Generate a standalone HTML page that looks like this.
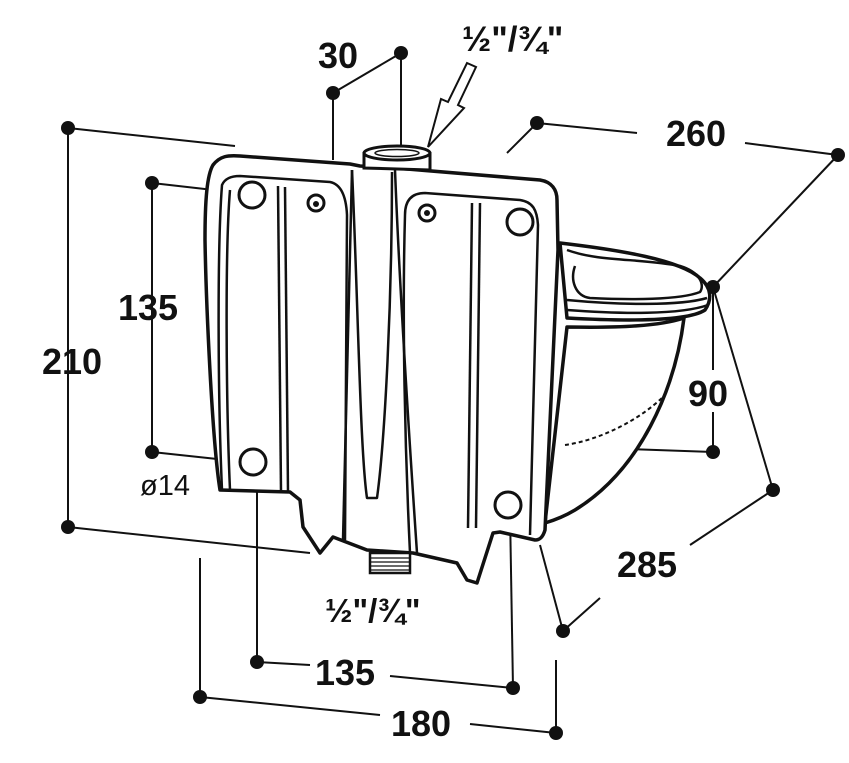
<!DOCTYPE html>
<html><head><style>
html,body{margin:0;padding:0;background:#fff;}
svg{display:block;}
text{font-family:"Liberation Sans",sans-serif;font-weight:bold;fill:#111;}
</style></head><body>
<svg width="849" height="763" viewBox="0 0 849 763" xmlns="http://www.w3.org/2000/svg">
<g stroke="#111" stroke-width="2" fill="none">
<line x1="68" y1="128" x2="68" y2="527"/>
<line x1="68" y1="128" x2="235" y2="146"/>
<line x1="68" y1="527" x2="310" y2="553"/>
<line x1="152" y1="183" x2="152" y2="452"/>
<line x1="152" y1="183" x2="240" y2="193"/>
<line x1="152" y1="452" x2="245" y2="462"/>
<line x1="333" y1="93" x2="401" y2="53"/>
<line x1="401" y1="53" x2="401" y2="152"/>
<line x1="333" y1="93" x2="333" y2="160"/>
<line x1="537" y1="123" x2="637" y2="133"/>
<line x1="745" y1="143" x2="838" y2="155"/>
<line x1="537" y1="123" x2="507" y2="153"/>
<line x1="838" y1="155" x2="713" y2="287"/>
<line x1="713" y1="287" x2="713" y2="370"/>
<line x1="713" y1="412" x2="713" y2="452"/>
<line x1="713" y1="452" x2="602" y2="448"/>
<line x1="713" y1="287" x2="773" y2="490"/>
<line x1="773" y1="490" x2="690" y2="545"/>
<line x1="600" y1="598" x2="563" y2="631"/>
<line x1="563" y1="631" x2="540" y2="545"/>
<line x1="257" y1="662" x2="257" y2="470"/>
<line x1="257" y1="662" x2="310" y2="665"/>
<line x1="390" y1="676" x2="513" y2="688"/>
<line x1="513" y1="688" x2="510" y2="512"/>
<line x1="200" y1="697" x2="200" y2="558"/>
<line x1="200" y1="697" x2="380" y2="715"/>
<line x1="470" y1="724" x2="556" y2="733"/>
<line x1="556" y1="733" x2="556" y2="660"/>
</g>
<g fill="#111">
<circle cx="68" cy="128" r="7"/><circle cx="68" cy="527" r="7"/>
<circle cx="152" cy="183" r="7"/><circle cx="152" cy="452" r="7"/>
<circle cx="333" cy="93" r="7"/><circle cx="401" cy="53" r="7"/>
<circle cx="537" cy="123" r="7"/><circle cx="838" cy="155" r="7"/>
<circle cx="713" cy="287" r="7"/><circle cx="713" cy="452" r="7"/>
<circle cx="773" cy="490" r="7"/><circle cx="563" cy="631" r="7"/>
<circle cx="257" cy="662" r="7"/><circle cx="513" cy="688" r="7"/>
<circle cx="200" cy="697" r="7"/><circle cx="556" cy="733" r="7"/>
</g>
<polygon points="467,63 476,67 458,105 464,108 428,147 441,99 448,102" fill="#fff" stroke="#111" stroke-width="2"/>
<g stroke="#111" stroke-width="3.5" fill="#fff" stroke-linejoin="round">
<path d="M560,243 C620,250 680,260 700,278 C712,288 712,300 705,310 C690,320 640,322 567,318 Z"/>
<path d="M567,327 C620,328 660,326 684,318 C675,390 640,470 575,510 C565,516 555,520 545,523 Z"/>
<path d="M213,165 C220,156 228,155 240,156 L350,164 L360,166 L395,168 L540,180 C552,182 557,190 557,200 L558,250 L545,530 C543,537 540,540 535,540 L500,532 L493,533 L477,583 L467,580 L457,563 L413,553 L367,550 L333,537 L320,553 L303,527 L300,500 L290,492 L220,490 C212,440 206,300 205,240 C205,200 207,175 213,165 Z"/>
</g>
<g stroke="#111" stroke-width="2.5" fill="none" stroke-linejoin="round">
<path d="M567,250 C600,262 640,258 680,266 C700,272 705,285 700,292 C680,300 630,300 590,298 C575,296 570,280 575,266"/>
<path d="M567,300 C620,305 680,306 707,298"/>
<path d="M567,310 C620,314 680,315 708,305"/>
<path d="M565,445 C600,440 640,420 665,395" stroke-dasharray="4,3" stroke-width="2"/>
<path d="M222,490 C218,400 217,250 222,185 C225,178 232,176 240,176 L330,182 C340,184 346,194 347,215 L345,540"/>
<path d="M230,490 C226,400 225,250 230,190"/>
<line x1="278" y1="186" x2="281" y2="492"/>
<line x1="285" y1="187" x2="288" y2="492"/>
<path d="M352,170 L343,540"/>
<path d="M352,170 C358,300 360,450 367,498 L377,498 C385,440 392,300 392,172"/>
<path d="M395,170 C400,300 410,450 417,553"/>
<path d="M405,215 C405,200 412,193 425,193 L520,200 C533,202 537,210 538,225 L530,535"/>
<line x1="472" y1="203" x2="468" y2="528"/>
<line x1="480" y1="203" x2="476" y2="528"/>
<path d="M405,215 C402,320 405,450 410,553"/>
</g>
<path d="M364,152 L364,168 L430,170 L430,152" fill="#fff" stroke="#111" stroke-width="3"/>
<ellipse cx="397" cy="153" rx="33" ry="7" fill="#fff" stroke="#111" stroke-width="3"/>
<ellipse cx="397" cy="153" rx="22" ry="3.5" fill="none" stroke="#111" stroke-width="1.5"/>
<rect x="370" y="553" width="40" height="20" fill="#fff" stroke="#111" stroke-width="2.5"/>
<g stroke="#111" stroke-width="1.2"><line x1="371" y1="558" x2="409" y2="558"/><line x1="371" y1="562" x2="409" y2="562"/><line x1="371" y1="566" x2="409" y2="566"/><line x1="371" y1="570" x2="409" y2="570"/></g>
<g fill="#fff" stroke="#111" stroke-width="3">
<circle cx="252" cy="195" r="13"/><circle cx="253" cy="462" r="13"/>
<circle cx="520" cy="222" r="13"/><circle cx="508" cy="505" r="13"/>
<circle cx="316" cy="203" r="8"/><circle cx="427" cy="213" r="8"/>
</g>
<g fill="#111"><circle cx="316" cy="204" r="3"/><circle cx="427" cy="213" r="3"/></g>
<text x="318" y="68" font-size="36">30</text>
<text x="462" y="51" font-size="35">½"/¾"</text>
<text x="666" y="146" font-size="36">260</text>
<text x="118" y="320" font-size="36">135</text>
<text x="42" y="374" font-size="36">210</text>
<text x="688" y="406" font-size="36">90</text>
<text x="140" y="495" font-size="29" style="font-weight:normal">ø14</text>
<text x="617" y="577" font-size="36">285</text>
<text x="325" y="622" font-size="33">½"/¾"</text>
<text x="315" y="685" font-size="36">135</text>
<text x="391" y="736" font-size="36">180</text>
</svg>
</body></html>
